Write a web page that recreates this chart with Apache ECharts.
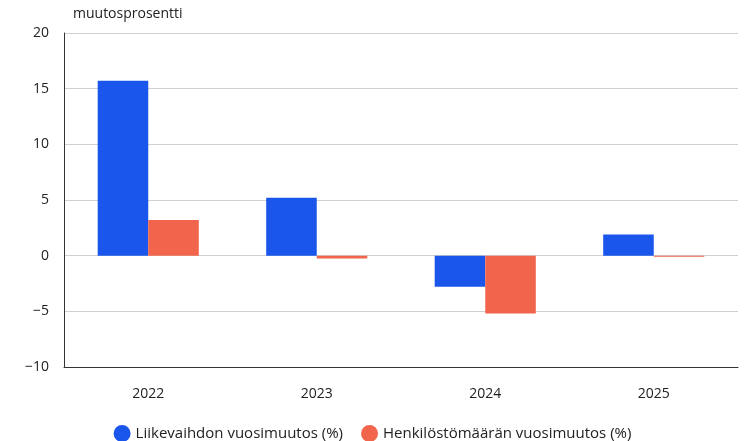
<!DOCTYPE html>
<html>
<head>
<meta charset="utf-8">
<script src="https://cdn.jsdelivr.net/npm/echarts@6/dist/echarts.min.js"></script>
<style>
  html, body { margin: 0; padding: 0; background: #fff; }
  #chart { width: 745px; height: 441px; }
</style>
</head>
<body>
<div id="chart"></div>
<script>
  var years = ['2022', '2023', '2024', '2025'];
  var liikevaihto = [15.7, 5.2, -2.8, 1.9];
  var henkilosto = [3.2, -0.25, -5.2, -0.1];
  var seriesNames = ['Liikevaihdon vuosimuutos (%)', 'Henkilöstömäärän vuosimuutos (%)'];

  var chart = echarts.init(document.getElementById('chart'));
  var font = '"Open Sans", "Noto Sans", sans-serif';

  chart.setOption({
    animation: false,
    textStyle: { fontFamily: font },
    legend: {
      top: 420,
      left: 'center',
      icon: 'circle',
      itemWidth: 17,
      itemHeight: 17,
      itemGap: 18,
      textStyle: { fontSize: 15, color: '#222', fontFamily: font },
      data: seriesNames
    },
    grid: { left: 64, right: 7, top: 33, bottom: 74, containLabel: false },
    xAxis: {
      type: 'category',
      data: years,
      axisTick: { alignWithLabel: true, length: 8, lineStyle: { color: '#333' } },
      axisLine: { onZero: false, lineStyle: { color: '#333' } },
      axisLabel: { fontSize: 14, color: '#222', margin: 20 }
    },
    yAxis: {
      type: 'value',
      min: -10,
      max: 20,
      interval: 5,
      name: 'muutosprosentti',
      nameLocation: 'end',
      nameGap: 12,
      nameTextStyle: { fontSize: 14, color: '#222', align: 'left', padding: [0, 0, 0, 9] },
      axisLine: { show: true, lineStyle: { color: '#333' } },
      axisLabel: { fontSize: 14, color: '#222', margin: 15,
        formatter: function (v) { return v < 0 ? '\u2212' + Math.abs(v) : v; } },
      splitLine: { lineStyle: { color: '#d0d0d0' } }
    },
    series: [
      {
        name: seriesNames[0],
        type: 'bar',
        data: liikevaihto,
        barGap: '0%',
        barCategoryGap: '40%',
        itemStyle: { color: '#1a56ec' }
      },
      {
        name: seriesNames[1],
        type: 'bar',
        data: henkilosto,
        itemStyle: { color: '#f2654d' }
      }
    ]
  });
</script>
</body>
</html>
